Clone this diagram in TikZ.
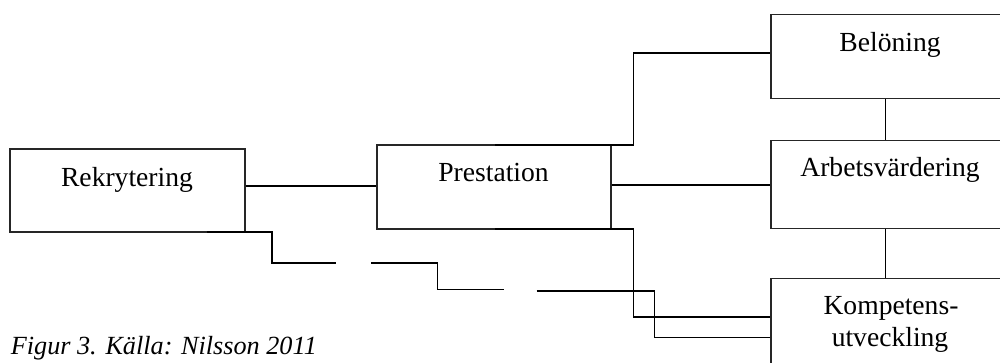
\documentclass[tikz,border=0pt]{standalone}
\usepackage{fontspec}
\setmainfont{Liberation Serif}
\begin{document}
\begin{tikzpicture}[x=1pt,y=-1pt,
  box/.style={draw=black!85,line width=1.2pt,rectangle,inner sep=0pt},
  lbl/.style={anchor=base,inner sep=0pt,font=\fontsize{27.6}{34}\selectfont},
  conn/.style={draw=black,line width=1.6pt},
  captext/.style={anchor=base west,inner sep=0pt,font=\fontsize{26.2}{32}\selectfont\itshape}]
\useasboundingbox (0,0) rectangle (1000,362);
\clip (0,0) rectangle (1000,362);
% boxes
\node[box,minimum width=235pt,minimum height=83pt] (rek) at (127.5,190.5) {};
\node[box,minimum width=234pt,minimum height=84pt] (pre) at (494,187) {};
\node[box,minimum width=236pt,minimum height=84pt] (bel) at (889,56.5) {};
\node[box,minimum width=236pt,minimum height=88pt] (arb) at (889,184.7) {};
\node[box,minimum width=236pt,minimum height=100pt] (kom) at (889,328.3) {};
% labels
\node[lbl] (trek) at (127,186) {Rekrytering};
\node[lbl] (tpre) at (493.5,181.7) {Prestation};
\node[lbl] (tbel) at (890,51.7) {Belöning};
\node[lbl] (tarb) at (890,176.7) {Arbetsvärdering};
\node[lbl] (tkom1) at (891,314) {Kompetens-};
\node[lbl] (tkom2) at (890,346.7) {utveckling};
\node[captext] (caption) at (10.7,354.3) {Figur 3. Källa: Nilsson 2011};
% coordinates for path corners
\coordinate (a1) at (495,145);
\coordinate (a2) at (633.3,52.7);
\coordinate (b1) at (495,228.7);
\coordinate (b2) at (633.3,316.7);
\coordinate (c1) at (206.7,232);
\coordinate (c2) at (271.7,262.7);
\coordinate (c3) at (335.7,262.7);
\coordinate (d1) at (371,262.7);
\coordinate (d2) at (437.3,289.3);
\coordinate (d3) at (504,289.3);
\coordinate (e1) at (536.7,291);
\coordinate (e2) at (654.3,337.3);
% connectors
\draw[conn] (rek.east |- 0,186) -- (pre.west |- 0,186);
\draw[conn] (pre.east |- 0,185) -- (arb.west |- 0,185);
\draw[conn] (a1) -- (a2 |- a1) -- (a2) -- (bel.west |- a2);
\draw[conn] (b1) -- (b2 |- b1) -- (b2) -- (kom.west |- b2);
\draw[conn] (c1) -- (c2 |- c1) -- (c2) -- (c3);
\draw[conn] (d1) -- (d2 |- d1) -- (d2) -- (d3);
\draw[conn] (e1) -- (e2 |- e1) -- (e2) -- (kom.west |- e2);
\draw[conn] (bel.south -| 885.3,0) -- (arb.north -| 885.3,0);
\draw[conn] (arb.south -| 885.3,0) -- (kom.north -| 885.3,0);
\end{tikzpicture}
\end{document}
